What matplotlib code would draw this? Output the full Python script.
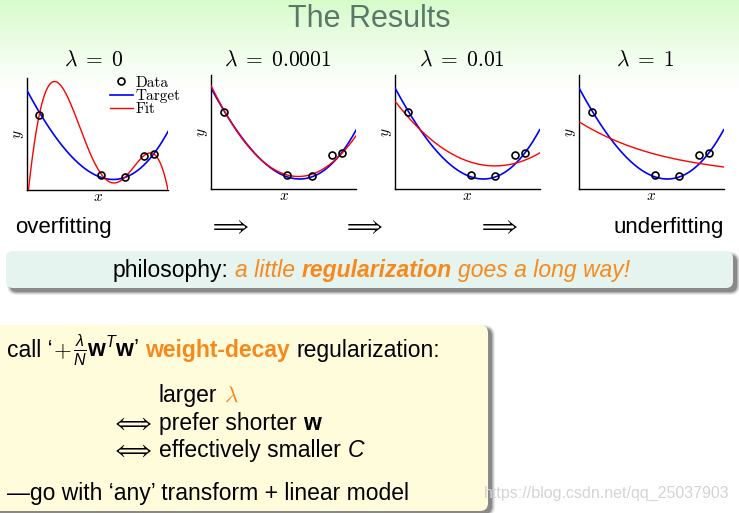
import numpy as np
import matplotlib
matplotlib.use('Agg')
import matplotlib.pyplot as plt
from matplotlib.patches import FancyBboxPatch
from numpy.polynomial import Polynomial

plt.rcParams['font.family'] = ['Liberation Sans', 'DejaVu Sans']
plt.rcParams['mathtext.fontset'] = 'custom'
plt.rcParams['mathtext.rm'] = 'Liberation Sans'
plt.rcParams['mathtext.it'] = 'Liberation Sans:italic'
plt.rcParams['mathtext.bf'] = 'Liberation Sans:bold'
plt.rcParams['mathtext.sf'] = 'Liberation Sans'

# ---------------- data (unit box [0,1]x[0,1]) ----------------
lambdas = ['0', '0.0001', '0.01', '1']
data_x = [0.085, 0.522, 0.693, 0.832, 0.898]
data_y = [0.671, 0.129, 0.114, 0.302, 0.317]

grid_x = [0.0, 0.1, 0.2, 0.3, 0.4, 0.5, 0.6, 0.7, 0.8, 0.9, 1.0]
target_y = [0.88, 0.66, 0.47, 0.314, 0.196, 0.12, 0.09, 0.111, 0.187, 0.322, 0.52]

fit0_x = [0.007, 0.043, 0.085, 0.125, 0.180, 0.232, 0.279, 0.326, 0.374, 0.421, 0.468,
          0.522, 0.563, 0.617, 0.657, 0.693, 0.752, 0.832, 0.882, 0.917, 0.953, 0.976, 1.0]
fit0_y = [0.000, 0.365, 0.671, 0.874, 0.964, 0.934, 0.844, 0.710, 0.560, 0.410, 0.260,
          0.129, 0.081, 0.066, 0.081, 0.114, 0.186, 0.302, 0.329, 0.305, 0.216, 0.111, 0.0]
fit_0001_y = [0.90, 0.661, 0.464, 0.310, 0.200, 0.134, 0.112, 0.134, 0.201, 0.313, 0.47]
fit_001_y = [0.766, 0.615, 0.487, 0.383, 0.303, 0.247, 0.214, 0.204, 0.218, 0.256, 0.317]
fit_1_y = [0.588, 0.514, 0.452, 0.399, 0.354, 0.315, 0.283, 0.255, 0.232, 0.212, 0.195]

W, H = 739, 513
fig = plt.figure(figsize=(W / 100, H / 100), dpi=100)

# ---------------- background axes in pixel coordinates ----------------
bg = fig.add_axes([0, 0, 1, 1])
bg.axis('off')

top = np.array([0.84, 0.985, 0.79])
ys = np.linspace(0, 1, 200)[:, None, None]
grad = top + (1 - top) * np.clip(ys, 0, 1) ** 0.9
bg.imshow(grad, extent=[0, W, 90, 0], aspect='auto', zorder=0, interpolation='bilinear')
bg.set_xlim(0, W)
bg.set_ylim(H, 0)

orange = '#f7891c'
title_col = '#587868'

bg.text(369, 27, 'The Results', fontsize=22, color=title_col, ha='center', va='baseline')

# ---------------- panels ----------------
panel_px = [(27.5, 168.0, 189.5, 78.0),
            (211.3, 356.3, 189.3, 74.7),
            (395.3, 539.7, 189.3, 74.7),
            (579.3, 723.7, 189.3, 74.7)]
fits = [(fit0_x, fit0_y, 9), (grid_x, fit_0001_y, 3), (grid_x, fit_001_y, 3), (grid_x, fit_1_y, 3)]
title_cx = [94, 278, 462, 645]

xs = np.linspace(0, 1, 400)
tgt = Polynomial.fit(grid_x, target_y, 3)
for i, ((l, r, b, t), (fx, fy, deg), lam) in enumerate(zip(panel_px, fits, lambdas)):
    ax = fig.add_axes([l / W, 1 - b / H, (r - l) / W, (b - t) / H])
    ax.set_xlim(0, 1)
    ax.set_ylim(0, 1)
    for s in ['top', 'right']:
        ax.spines[s].set_visible(False)
    for s in ['left', 'bottom']:
        ax.spines[s].set_linewidth(1.0)
    ax.set_xticks([])
    ax.set_yticks([])
    ax.patch.set_alpha(0)
    ax.plot(xs, tgt(xs), color='#0000ff', lw=1.2, label='Target', zorder=3)
    fp = Polynomial.fit(fx, fy, deg)
    ax.plot(xs, fp(xs), color='#ff0000', lw=1.0, label='Fit', zorder=4)
    ax.plot(data_x, data_y, 'o', mfc='none', mec='black', mew=1.2, ms=5, label='Data', zorder=5)
    ax.set_xlabel(r'$x$', math_fontfamily='cm', fontsize=11, labelpad=0)
    ax.set_ylabel(r'$y$', math_fontfamily='cm', fontsize=11, labelpad=1)
    bg.text(title_cx[i], 66, r'$\lambda\;=\;%s$' % lam, math_fontfamily='cm', fontsize=15.5,
            ha='center', va='baseline')
    if i == 0:
        h, lab = ax.get_legend_handles_labels()
        order = [2, 0, 1]
        ax.legend([h[k] for k in order], [lab[k] for k in order],
                  loc='upper left', bbox_to_anchor=(110 / W, 1 - 76 / H),
                  bbox_transform=fig.transFigure, frameon=False,
                  prop={'family': 'cmr10', 'size': 11}, labelspacing=-0.05,
                  handlelength=1.5, handletextpad=0.15, borderpad=0, borderaxespad=0)

# ---------------- overfitting row ----------------
bg.text(15, 233, 'overfitting', fontsize=16, ha='left', va='baseline')
bg.text(724, 233, 'underfitting', fontsize=16, ha='right', va='baseline')
for cx in [228, 362, 497]:
    bg.text(cx, 233, r'$\Longrightarrow$', math_fontfamily='cm', fontsize=16.5,
            ha='center', va='baseline')

fig.canvas.draw()
renderer = fig.canvas.get_renderer()


def draw_pieces(x, y, pieces):
    for p in pieces:
        if isinstance(p, (int, float)):
            x += p
            continue
        s, kw = p
        t = bg.text(x, y, s, ha='left', va='baseline', zorder=6, **kw)
        x += t.get_window_extent(renderer).width
    return x


def shadow_box(x, y, w, h, fc, rs, dx, dy):
    for k, a in [(3, 0.10), (2, 0.15), (1, 0.22), (0, 0.35)]:
        bg.add_patch(FancyBboxPatch((x + dx - k, y + dy - k), w + 2 * k, h + 2 * k,
                                    boxstyle='round,pad=0,rounding_size=%g' % (rs + k),
                                    fc='#404040', ec='none', alpha=a, zorder=1))
    bg.add_patch(FancyBboxPatch((x, y), w, h, boxstyle='round,pad=0,rounding_size=%g' % rs,
                                fc=fc, ec='none', zorder=2))


# ---------------- philosophy box ----------------
shadow_box(6, 251, 727, 37, '#e6f4ef', 7, 4, 4)
fs = 16.5
sp = 0.278 * fs * 100 / 72
draw_pieces(113, 277, [
    ('philosophy:', dict(fontsize=fs, color='black')), sp,
    ('a little', dict(fontsize=fs, color=orange, style='italic')), sp,
    ('regularization', dict(fontsize=fs, color=orange, style='italic', weight='bold')), sp,
    ('goes a long way!', dict(fontsize=fs, color=orange, style='italic')),
])

# ---------------- weight decay box ----------------
shadow_box(-12, 325, 500, 186, '#fffcdc', 8, 4, 3)
draw_pieces(7, 357, [
    ("call ‘", dict(fontsize=fs, color='black')),
    (r'$+$', dict(fontsize=fs, color='black', math_fontfamily='cm')), 1.5,
    (r"$\frac{\lambda}{N}\mathbf{w}^{T}\mathbf{w}$’", dict(fontsize=fs, color='black')), sp,
    ('weight-decay', dict(fontsize=fs, color=orange, weight='bold')), sp,
    ('regularization:', dict(fontsize=fs, color='black')),
])
draw_pieces(159, 402, [
    ('larger', dict(fontsize=fs, color='black')), sp,
    (r'$\lambda$', dict(fontsize=fs, color=orange, math_fontfamily='cm')),
])
for yb, pieces in [(430, [('prefer shorter', dict(fontsize=fs)), sp,
                          ('w', dict(fontsize=fs, weight='bold'))]),
                   (457, [('effectively smaller', dict(fontsize=fs)), sp,
                          ('C', dict(fontsize=fs, style='italic'))])]:
    bg.text(131, yb, r'$\Longleftrightarrow$', math_fontfamily='cm', fontsize=17,
            ha='center', va='baseline', zorder=6)
    draw_pieces(159, yb, pieces)
draw_pieces(7, 500, [("—go with ‘any’ transform + linear model", dict(fontsize=fs, color='black'))])

bg.text(607, 493, 'https://blog.csdn.net/qq_25037903', fontsize=11.5, color='#d4d4d4',
        ha='center', va='center', zorder=7)

fig.savefig('out.png', dpi=100)
